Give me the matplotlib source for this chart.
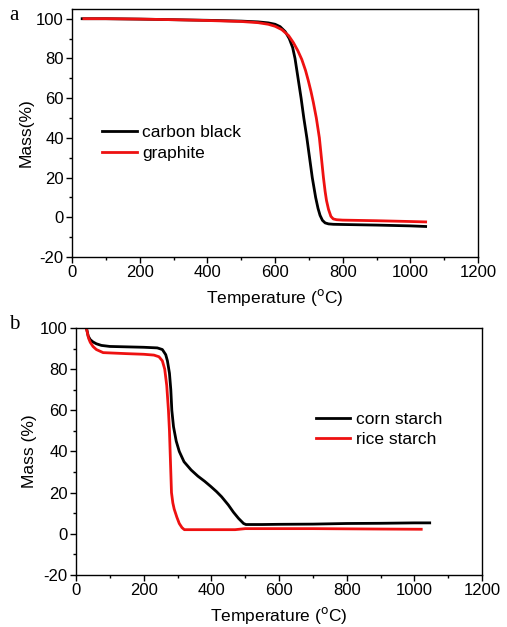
import numpy as np
import matplotlib
matplotlib.use("Agg")
import matplotlib.pyplot as plt
from matplotlib.ticker import MultipleLocator

plt.rcParams["font.family"] = ["Liberation Sans", "DejaVu Sans"]
plt.rcParams["axes.unicode_minus"] = False

# (a) carbon black / graphite
cb_T = [30, 100, 200, 300, 400, 500, 550, 580, 600, 615, 630, 642, 652, 659, 668, 677, 685, 694, 702, 710, 720, 727, 733, 740, 748, 758, 772, 800, 900, 1000, 1045]
cb_m = [100, 100, 99.8, 99.5, 99.2, 98.8, 98.4, 97.9, 97.2, 96, 93.5, 90, 85.5, 80, 70, 60, 50, 40, 30, 20, 10, 4.5, 1, -1.5, -2.8, -3.3, -3.5, -3.6, -3.9, -4.3, -4.6]
gr_T = [35, 100, 200, 300, 400, 500, 550, 580, 600, 620, 640, 654, 667, 679, 690, 698, 706, 713, 722, 731, 737, 743, 748, 752, 758, 765, 772, 782, 800, 900, 1000, 1045]
gr_m = [100, 100, 99.8, 99.5, 99.1, 98.6, 98, 97.2, 96.2, 94.5, 91.5, 88, 84, 79.5, 74, 69, 63.5, 58, 50, 40, 30, 20, 13, 8.5, 4, 0.5, -0.8, -1.2, -1.4, -1.7, -2.1, -2.3]

# (b) corn starch / rice starch
cs_T = [30, 32, 36, 42, 50, 60, 75, 100, 150, 200, 240, 255, 265, 270, 276, 280, 283, 288, 296, 305, 319, 340, 360, 380, 398, 415, 430, 450, 465, 480, 495, 502, 550, 600, 700, 800, 900, 1000, 1045]
cs_m = [100, 99, 96, 94.3, 93.2, 92.3, 91.5, 91, 90.8, 90.6, 90.3, 89.5, 87, 84, 78, 70, 60, 52, 45, 40, 35, 31, 28, 25.5, 23, 20.5, 18, 14, 10.5, 7.5, 5, 4.5, 4.5, 4.6, 4.7, 5, 5.1, 5.3, 5.3]
rs_T = [30, 33, 37, 42, 50, 60, 80, 150, 200, 230, 245, 255, 262, 268, 273, 276, 278, 280, 282, 286, 290, 298, 305, 313, 320, 400, 470, 500, 600, 700, 800, 900, 1020]
rs_m = [100, 98, 95, 93, 91, 89.5, 88, 87.5, 87.2, 86.8, 86, 84, 80, 72, 60, 50, 40, 30, 20, 15, 12, 8, 5, 3, 2, 2, 2, 2.5, 2.5, 2.5, 2.4, 2.3, 2.2]

fig = plt.figure(figsize=(5.07, 6.27), dpi=100)
ax1 = fig.add_axes([0.142, 0.590, 0.801, 0.396])
ax2 = fig.add_axes([0.150, 0.083, 0.801, 0.394])

red = "#ee1111"


def style(ax, ylabel, ytop):
    ax.set_xlim(0, 1200)
    ax.set_ylim(-20, ytop)
    ax.xaxis.set_major_locator(MultipleLocator(200))
    ax.xaxis.set_minor_locator(MultipleLocator(100))
    ax.yaxis.set_major_locator(MultipleLocator(20))
    ax.yaxis.set_minor_locator(MultipleLocator(10))
    ax.tick_params(which="both", direction="out", top=False, right=False, labelsize=12)
    ax.tick_params(which="major", length=4, width=1, pad=2)
    ax.tick_params(which="minor", length=2.5, width=1)
    ax.set_xlabel("Temperature ($^{\\rm o}$C)", fontsize=12.5, labelpad=5)
    ax.set_ylabel(ylabel, fontsize=12.5, labelpad=2)
    for s in ax.spines.values():
        s.set_linewidth(1)


ax1.plot(cb_T, cb_m, color="black", lw=2, label="carbon black")
ax1.plot(gr_T, gr_m, color=red, lw=2, label="graphite")
style(ax1, "Mass(%)", 105)
ax1.legend(loc="upper left", bbox_to_anchor=(0.045, 0.58), frameon=False, fontsize=12.5,
           handlelength=2.0, handletextpad=0.3, labelspacing=0.3, borderpad=0.2)

ax2.plot(cs_T, cs_m, color="black", lw=2, label="corn starch")
ax2.plot(rs_T, rs_m, color=red, lw=2, label="rice starch")
style(ax2, "Mass (%)", 100)
ax2.legend(loc="upper left", bbox_to_anchor=(0.56, 0.71), frameon=False, fontsize=12.5,
           handlelength=2.0, handletextpad=0.3, labelspacing=0.3, borderpad=0.2)

fig.text(0.018, 0.975, "a", family="Liberation Serif", fontsize=15, va="center")
fig.text(0.018, 0.482, "b", family="Liberation Serif", fontsize=15, va="center")

fig.savefig("out.png", dpi=100)
